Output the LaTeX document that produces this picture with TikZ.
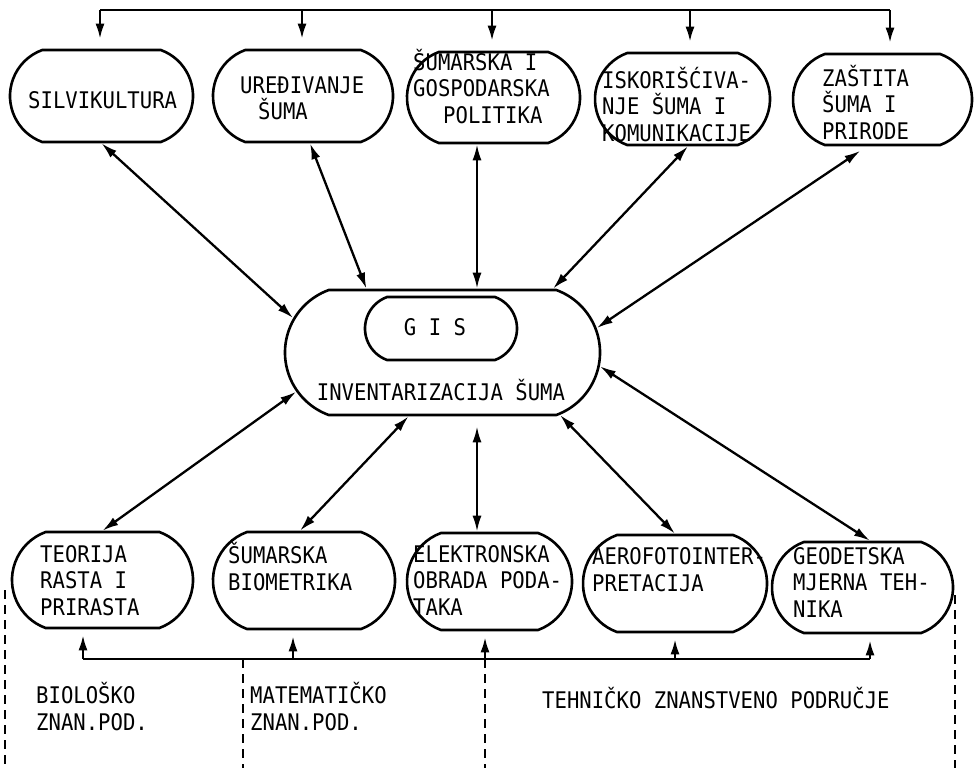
\documentclass[tikz,border=0pt]{standalone}
\usepackage{fontspec}
\newfontfamily\lpfont[FakeStretch=0.9]{DejaVu Sans Mono}
\usetikzlibrary{arrows.meta, shapes.misc}

\begin{document}
\begin{tikzpicture}[
    x=1pt, y=-1pt,
    every node/.style={font=\lpfont\fontsize{22.9}{26.5}\selectfont},
    bx/.style={rounded rectangle, rounded rectangle arc length=140,
        draw=black, line width=2.6pt, inner sep=0pt},
    lbl/.style={anchor=base west, align=left, inner sep=0pt},
    dbl/.style={{Latex[length=16pt,width=9pt]}-{Latex[length=16pt,width=9pt]},
        line width=2.3pt},
    feed/.style={-{Latex[length=15pt,width=9pt]}, line width=2.3pt},
    bar/.style={line width=2.6pt},
    divider/.style={dash pattern=on 9pt off 6pt, line width=2.2pt},
]
\useasboundingbox (0,0) rectangle (979,771);

% ====== TOP ROW ======
\node[bx, minimum width=183pt, minimum height=92pt] (silv)  at (101.5,96)  {};
\node[bx, minimum width=180pt, minimum height=92pt] (ured)  at (303,96)    {};
\node[bx, minimum width=173pt, minimum height=91pt] (polit) at (493.5,97.5) {};
\node[bx, minimum width=175pt, minimum height=92pt] (iskor) at (682.5,99)  {};
\node[bx, minimum width=179pt, minimum height=91pt] (zast)  at (882.5,99.5) {};

% base = last line
\node[lbl] (silv-t)  at (28,108)   {SILVIKULTURA};
\node[lbl] (ured-t)  at (240,119.5) {UREĐIVANJE\\\hspace*{18pt}ŠUMA};
\node[lbl] (polit-t) at (413,123)  {ŠUMARSKA I\\GOSPODARSKA\\\hspace*{30pt}POLITIKA};
\node[lbl] (iskor-t) at (602,141)  {ISKORIŠĆIVA-\\NJE ŠUMA I\\KOMUNIKACIJE};
\node[lbl] (zast-t)  at (822,139)  {ZAŠTITA\\ŠUMA I\\PRIRODE};

% ====== CENTRE ======
\node[bx, minimum width=315pt, minimum height=125pt] (inv) at (442.5,352.5) {};
\node[bx, minimum width=152pt, minimum height=63pt]  (gis) at (441,328.5)   {};
\node (gis-t) at (435,327) {G I S};
\node[anchor=base, inner sep=0pt] (inv-t) at (441,400) {INVENTARIZACIJA ŠUMA};

% ====== BOTTOM ROW ======
\node[bx, minimum width=181pt, minimum height=96pt] (teor) at (102.5,580)   {};
\node[bx, minimum width=182pt, minimum height=97pt] (biom) at (304,580.5)   {};
\node[bx, minimum width=165pt, minimum height=97pt] (elek) at (489.5,581.5) {};
\node[bx, minimum width=184pt, minimum height=97pt] (aero) at (675,583.5)   {};
\node[bx, minimum width=181pt, minimum height=91pt] (geod) at (862.5,587.5) {};

\node[lbl] (teor-t) at (40,615)  {TEORIJA\\RASTA I\\PRIRASTA};
\node[lbl] (biom-t) at (228,590) {ŠUMARSKA\\BIOMETRIKA};
\node[lbl] (elek-t) at (413,615) {ELEKTRONSKA\\OBRADA PODA-\\TAKA};
\node[lbl] (aero-t) at (592,591) {AEROFOTOINTER-\\PRETACIJA};
\node[lbl] (geod-t) at (793,617) {GEODETSKA\\MJERNA TEH-\\NIKA};

% ====== ARROWS TO / FROM CENTRE ======
\draw[dbl] (silv.south) -- (inv.167);
\draw[dbl] ([xshift=7pt]ured.south) -- (inv.140);
\draw[dbl] ([xshift=-16.5pt]polit.south) -- ([xshift=-16.5pt]polit.south |- inv.north);
\draw[dbl] ([xshift=5.5pt]iskor.south) -- (inv.30);
\draw[dbl, shorten <=8pt] ([xshift=-15.5pt]zast.south) -- (inv.9);

\draw[dbl] (inv.195) -- (teor.north);
\draw[dbl] (inv.242) -- ([xshift=-4pt]biom.north);
\draw[dbl, shorten <=10pt] ([xshift=-12.5pt]elek.north |- inv.south)
    -- ([xshift=-12.5pt]elek.north);
\draw[dbl] (inv.332) -- (aero.north);
\draw[dbl] (inv.355) -- ([xshift=7.5pt]geod.north);

% ====== TOP BAR ======
\coordinate (top-l) at (100,10);
\coordinate (top-r) at (890,10);
\draw[bar] (top-l) -- (top-r);
\foreach \n/\dx in {silv/-1.5, ured/-1, polit/-1.5, iskor/7.5, zast/7.5}
    \draw[feed, shorten >=10pt] ([xshift=\dx pt]\n.north |- top-l) -- ([xshift=\dx pt]\n.north);

% ====== BOTTOM BAR ======
\coordinate (bot-l) at (83,659);
\coordinate (bot-r) at (870,659);
\draw[bar] (bot-l) -- (bot-r);
\foreach \n/\dx in {teor/-19.5, biom/-11, elek/-4.5, aero/0, geod/7.5}
    \draw[feed, shorten >=6pt] ([xshift=\dx pt]\n.south |- bot-l) -- ([xshift=\dx pt]\n.south);

% ====== FIELDS ======
\coordinate (d1-a) at (5,590);   \coordinate (d1-b) at (5,768);
\coordinate (d2-a) at (243,659); \coordinate (d2-b) at (243,768);
\coordinate (d3-a) at (485,659); \coordinate (d3-b) at (485,768);
\coordinate (d4-a) at (955,595); \coordinate (d4-b) at (955,768);
\foreach \d in {d1, d2, d3, d4}
    \draw[divider] (\d-a) -- (\d-b);

\node[lbl] (bio-t) at (36,730)  {BIOLOŠKO\\ZNAN.POD.};
\node[lbl] (mat-t) at (250,730) {MATEMATIČKO\\ZNAN.POD.};
\node[lbl] (teh-t) at (542,708) {TEHNIČKO ZNANSTVENO PODRUČJE};

\end{tikzpicture}
\end{document}
